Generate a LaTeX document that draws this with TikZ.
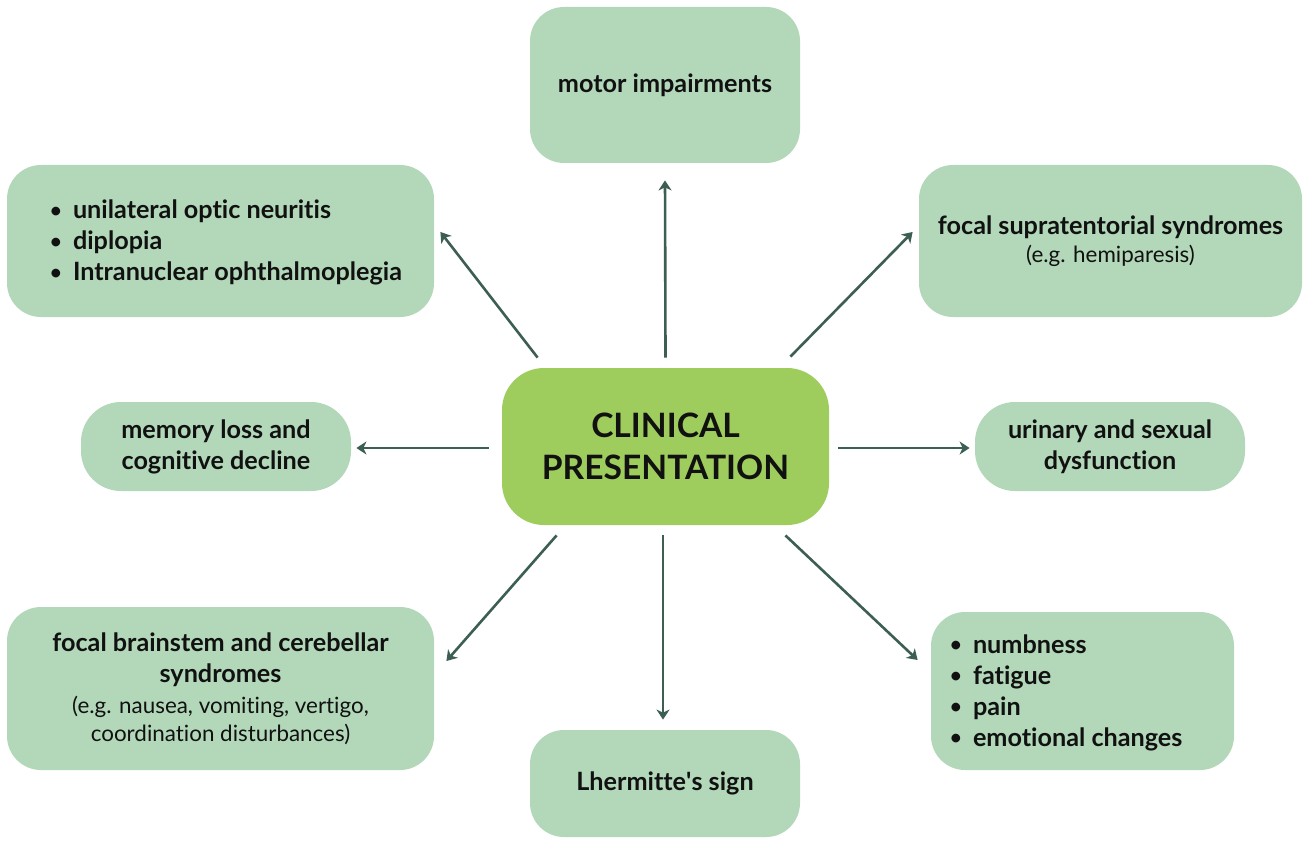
\documentclass[tikz,border=0pt]{standalone}
\usepackage{fontspec}
\setmainfont{Lato}[Ligatures=NoCommon]
\usetikzlibrary{arrows.meta,calc}
\definecolor{boxgreen}{HTML}{B2D8B9}
\definecolor{hubgreen}{HTML}{9ECD5D}
\definecolor{linkgreen}{HTML}{3C5E54}
\definecolor{ink}{HTML}{111111}
\newcommand{\entry}[1]{\makebox[11.5pt][l]{\raisebox{0.6pt}{\fontsize{10}{10}\selectfont •}}#1}
\newcommand{\note}[1]{{\mdseries\fontsize{11.2}{15.5}\selectfont #1}}
\tikzset{
  topic/.style={fill=boxgreen, rounded corners=17pt, inner sep=0pt, align=center, text=ink,
    font=\bfseries\fontsize{12.6}{15.5}\selectfont},
  hub/.style={fill=hubgreen, rounded corners=21pt, inner sep=0pt, align=center, text=ink,
    font=\bfseries\fontsize{16.8}{21}\selectfont},
  listtext/.style={anchor=west, align=left, inner sep=0pt, text=ink,
    font=\bfseries\fontsize{12.6}{15.5}\selectfont},
  link/.style={draw=linkgreen, line width=1.3pt, -{Stealth[length=5pt,width=6.5pt,inset=1.5pt]}}
}
\begin{document}
\begin{tikzpicture}[x=0.5pt, y=-0.5pt]
    \fill[white] (0,0) rectangle (1309,844);
    \useasboundingbox (0,0) rectangle (1309,844);

    % centre
    \node[hub, minimum width=163.5pt, minimum height=78.5pt] (clin) at (665.5,446.5) {CLINICAL\\PRESENTATION};

    % surrounding boxes
    \node[topic, minimum width=135pt, minimum height=78pt] (motor) at (665,85) {motor impairments};
    \node[topic, minimum width=213.5pt, minimum height=76pt] (optic) at (220.5,241) {};
    \node[listtext] (optictext) at ($(optic.west)+(43,1.5)$) {\entry{unilateral optic neuritis}\\
        \entry{diplopia}\\ \entry{Intranuclear ophthalmoplegia}};
    \node[topic, minimum width=191.5pt, minimum height=76pt] (supra) at (1110.5,241)
        {focal supratentorial syndromes\\[-1.5pt] \note{(e.g. hemiparesis)}};
    \node[topic, rounded corners=20pt, minimum width=135pt, minimum height=44.5pt] (memory) at (216,446.5)
        {memory loss and\\ cognitive decline};
    \node[topic, rounded corners=20pt, minimum width=135pt, minimum height=44.5pt] (urinary) at (1110,446.5)
        {urinary and sexual\\ dysfunction};
    \node[topic, minimum width=213.5pt, minimum height=81.5pt] (brainstem) at (220.5,688.5)
        {focal brainstem and cerebellar\\ syndromes\\ \note{(e.g. nausea, vomiting, vertigo,}\\[-1.5pt]
        \note{coordination disturbances)}};
    \node[topic, minimum width=135pt, minimum height=53.5pt] (lherm) at (665,783.5) {Lhermitte\textquotesingle s sign};
    \node[topic, minimum width=151.5pt, minimum height=79pt] (numb) at (1082.5,691) {};
    \node[listtext] (numbtext) at ($(numb.west)+(19,1.5)$) {\entry{numbness}\\ \entry{fatigue}\\
        \entry{pain}\\ \entry{emotional changes}};

    % connectors
    \draw[link] ($(clin.north)+(0,-10)$) -- ($(motor.south)+(0,17)$);
    \draw[link] ($(clin.north west)+(36,-10)$) -- ($(optic.east)+(6,-9)$);
    \draw[link] ($(clin.north east)+(-39,-11)$) -- ($(supra.west)+(-6,-9)$);
    \draw[link] ($(clin.west)+(-13,1.5)$) -- ($(memory.east)+(5,1.5)$);
    \draw[link] ($(clin.east)+(9,1.5)$) -- ($(urinary.west)+(-5,1.5)$);
    \draw[link] ($(clin.south west)+(55,10)$) -- ($(brainstem.east)+(12,-27.5)$);
    \draw[link] ($(clin.south)+(-2.5,10)$) -- ($(lherm.north)+(-2,-10)$);
    \draw[link] ($(clin.south east)+(-44,10)$) -- ($(numb.west)+(-13,-31)$);
\end{tikzpicture}
\end{document}
